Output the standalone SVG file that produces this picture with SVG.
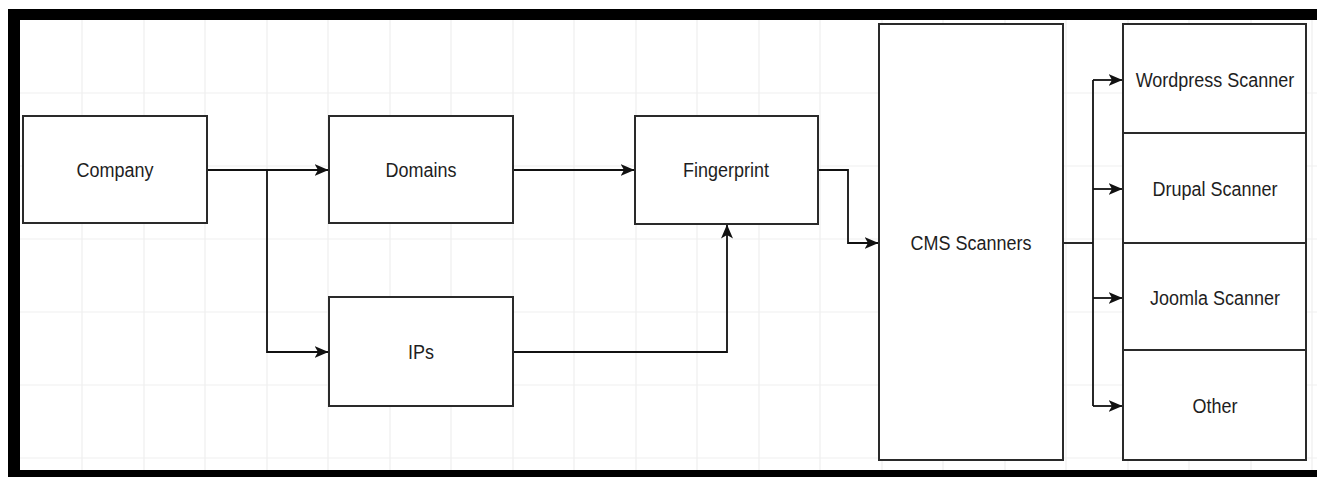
<svg xmlns="http://www.w3.org/2000/svg" width="1317" height="477" viewBox="0 0 1317 477">
<style>
.box{fill:#fff;stroke:#2a2a2a;stroke-width:2}
.lbl{font-family:"Liberation Sans",Arial,sans-serif;font-size:18px;fill:#1e1e1e;text-anchor:middle;dominant-baseline:central}
.edge{fill:none;stroke:#111;stroke-width:1.8}
.grid{stroke:#efefef;stroke-width:1.2}
</style>
<defs>
<marker id="arr" viewBox="0 0 14 12" refX="13.5" refY="6" markerWidth="14" markerHeight="12" markerUnits="userSpaceOnUse" orient="auto">
<path d="M0,0 L14,6 L0,12 L3.5,6 Z" fill="#111"/>
</marker>
</defs>
<rect x="0" y="0" width="1317" height="477" fill="#fff"/>
<g id="grid">
<path class="grid" d="M82,20V470 M144,20V470 M205,20V470 M267,20V470 M328,20V470 M390,20V470 M451,20V470 M513,20V470 M574,20V470 M636,20V470 M697,20V470 M759,20V470 M820,20V470 M882,20V470 M943,20V470 M1005,20V470 M1066,20V470 M1128,20V470 M1189,20V470 M1251,20V470 M1312,20V470"/>
<path class="grid" d="M20,93H1317 M20,166H1317 M20,239H1317 M20,312H1317 M20,385H1317 M20,458H1317"/>
</g>
<g id="frame">
<rect x="8" y="9" width="1309" height="11" fill="#000"/>
<rect x="8" y="9" width="12" height="468" fill="#000"/>
<rect x="8" y="470" width="1309" height="7" fill="#000"/>
</g>
<g id="connectors">
<path class="edge" d="M207,170H328" marker-end="url(#arr)"/>
<path class="edge" d="M267,170V352H328" marker-end="url(#arr)"/>
<path class="edge" d="M513,170H634" marker-end="url(#arr)"/>
<path class="edge" d="M513,352H727V225" marker-end="url(#arr)"/>
<path class="edge" d="M818,170H848V243H878" marker-end="url(#arr)"/>
<path class="edge" d="M1063,243H1093"/>
<path class="edge" d="M1093,80V406"/>
<path class="edge" d="M1093,80H1122" marker-end="url(#arr)"/>
<path class="edge" d="M1093,189H1122" marker-end="url(#arr)"/>
<path class="edge" d="M1093,298H1122" marker-end="url(#arr)"/>
<path class="edge" d="M1093,406H1122" marker-end="url(#arr)"/>
</g>
<g id="company"><rect class="box" x="23" y="116" width="184" height="107"/><text class="lbl" transform="translate(115,170) scale(1,1.12)">Company</text></g>
<g id="domains"><rect class="box" x="329" y="116" width="184" height="107"/><text class="lbl" transform="translate(421,170) scale(1,1.12)">Domains</text></g>
<g id="fingerprint"><rect class="box" x="635" y="116" width="183" height="108"/><text class="lbl" transform="translate(726,170) scale(1,1.12)">Fingerprint</text></g>
<g id="ips"><rect class="box" x="329" y="297" width="184" height="109"/><text class="lbl" transform="translate(421,352) scale(1,1.12)">IPs</text></g>
<g id="cms"><rect class="box" x="879" y="24" width="184" height="436"/><text class="lbl" transform="translate(971,243) scale(1,1.12)">CMS Scanners</text></g>
<g id="wordpress"><rect class="box" x="1123" y="24" width="183" height="109"/><text class="lbl" transform="translate(1215,80) scale(1,1.12)">Wordpress Scanner</text></g>
<g id="drupal"><rect class="box" x="1123" y="133" width="183" height="110"/><text class="lbl" transform="translate(1215,189) scale(1,1.12)">Drupal Scanner</text></g>
<g id="joomla"><rect class="box" x="1123" y="243" width="183" height="107"/><text class="lbl" transform="translate(1215,298) scale(1,1.12)">Joomla Scanner</text></g>
<g id="other"><rect class="box" x="1123" y="350" width="183" height="110"/><text class="lbl" transform="translate(1215,406) scale(1,1.12)">Other</text></g>
</svg>
